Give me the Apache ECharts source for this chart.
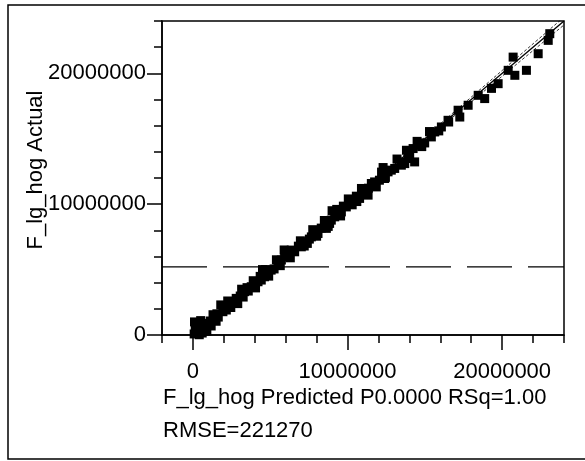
<!DOCTYPE html>
<html>
<head>
<meta charset="utf-8">
<script src="https://cdn.jsdelivr.net/npm/echarts@6/dist/echarts.min.js"></script>
<style>html,body{margin:0;padding:0;background:#fff}#c{width:585px;height:461px}</style>
</head>
<body>
<div id="c"></div>
<script>
// Predicted vs actual values (units: hogs)
var predicted = [80000,280000,150000,410000,540000,730000,210000,600000,970000,1180000,1120000,1400000,1640000,1550000,1940000,2160000,2050000,2370000,2610000,2800000,2750000,3060000,3340000,3580000,3500000,3770000,3970000,4210000,4420000,4350000,4630000,4870000,5060000,5250000,5500000,5720000,5930000,6150000,6360000,6580000,6820000,7010000,7330000,7530000,7660000,7850000,8090000,8300000,8630000,8840000,8950000,9170000,9400000,9600000,9730000,9920000,10180000,10380000,10780000,10570000,11020000,11330000,11350000,11540000,11860000,11750000,12060000,12400000,12620000,12830000,13050000,13480000,13920000,14020000,14240000,14340000,13810000,14650000,14990000,15420000,15640000,16070000,16500000,16540000,17150000,17260000,17800000,18450000,18870000,19310000,19740000,20390000,20710000,20820000,21570000,22330000,22980000,23080000,
  350000,850000,1300000,1500000,2250000,2450000,3150000,3250000,3900000,4050000,4700000,4900000,5400000,5650000,6050000,6300000,6950000,7200000,7750000,8000000,8500000,8750000,9300000,9550000,10050000,10300000,10900000,11150000,12200000,12450000,13200000,13500000,14500000,14800000,15300000,15900000,
  100000,500000,900000,1800000,2900000,4500000,5900000,7400000,9000000,10600000,12300000,13700000];
var actual = [80000,380000,530000,20000,610000,310000,760000,150000,890000,690000,1070000,1270000,1370000,1620000,1780000,1910000,2200000,2420000,2520000,2800000,2550000,2980000,3310000,3360000,3620000,3690000,3820000,4070000,4200000,4480000,4450000,4810000,4960000,5050000,5470000,5730000,5980000,6110000,6490000,6360000,6790000,6740000,7120000,7330000,7500000,7710000,7760000,8170000,8150000,8530000,8780000,9030000,9310000,9410000,9850000,9790000,10080000,10310000,10440000,10610000,10840000,10690000,11220000,11580000,11320000,11700000,11830000,11960000,12470000,12600000,12730000,12980000,13490000,13870000,14250000,13230000,14120000,14500000,14680000,15140000,15520000,15900000,16410000,16280000,17180000,16660000,17560000,18320000,18070000,18850000,19210000,20230000,21240000,19850000,20230000,21500000,22520000,23030000,
  850000,450000,1550000,1050000,2600000,2100000,3500000,2900000,4150000,3600000,5000000,4500000,5750000,5300000,6400000,5900000,7200000,6800000,8050000,7550000,8750000,8300000,9600000,9100000,10400000,9950000,11200000,10750000,12450000,12050000,13450000,13200000,14800000,14400000,15550000,15600000,
  1000000,1100000,300000,2300000,2400000,5000000,6500000,7000000,9500000,10200000,12800000,13100000];
// Fit line and confidence curves
var fitX = [0, 24000000];
var fitY = [0, 24000000];
var confX = [0, 5200000, 12000000, 18000000, 24000000];
var confLow = [-100000, 5180000, 11930000, 17820000, 23700000];
var confHigh = [100000, 5220000, 12070000, 18180000, 24300000];
var meanActual = 5210000;
// Axes
var xMin = -2000000, xMax = 24000000, yMin = 0, yMax = 24000000, step = 2000000;
var majorTicks = [0, 10000000, 20000000];
var xTitle = 'F_lg_hog Predicted P0.0000 RSq=1.00';
var rmseText = 'RMSE=221270';
var yTitle = 'F_lg_hog Actual';

var FONT = "'Liberation Sans', Arial, sans-serif";
function zip(a, b) { var r = []; for (var i = 0; i < a.length; i++) r.push([a[i], b[i]]); return r; }
function lbl(v) { return majorTicks.indexOf(v) >= 0 ? String(v) : ''; }

var chart = echarts.init(document.getElementById('c'));
var grid = { left: 162, top: 21, width: 402, height: 314, show: true, borderColor: '#000', borderWidth: 1.5, backgroundColor: 'transparent' };
var baseAxis = function (min, max, extra, margin) {
  var o = {
    type: 'value', min: min, max: max, interval: step,
    axisLine: { show: true, onZero: false, lineStyle: { color: '#000', width: 1.5 } },
    axisTick: { show: true, length: 8, lineStyle: { color: '#000', width: 1.5 } },
    axisLabel: { show: true, color: '#000', fontSize: 22, fontFamily: FONT, formatter: lbl, margin: margin, showMinLabel: true, showMaxLabel: true },
    splitLine: { show: false }
  };
  for (var k in extra) o[k] = extra[k];
  return o;
};
var majorAxis = function (min, max, extra) {
  var o = {
    type: 'value', min: min, max: max, interval: 10000000,
    axisLine: { show: false, onZero: false },
    axisTick: { show: true, length: 15, customValues: majorTicks, lineStyle: { color: '#000', width: 1.5 } },
    axisLabel: { show: false },
    splitLine: { show: false }
  };
  for (var k in extra) o[k] = extra[k];
  return o;
};

chart.setOption({
  animation: false,
  backgroundColor: '#fff',
  grid: grid,
  xAxis: [baseAxis(xMin, xMax, { position: 'bottom' }, 26), majorAxis(xMin, xMax, { position: 'bottom' })],
  yAxis: [baseAxis(yMin, yMax, { position: 'left' }, 16), majorAxis(yMin, yMax, { position: 'left' })],
  series: [
    { type: 'line', data: [[xMin, meanActual], [xMax, meanActual]], showSymbol: false, silent: true,
      lineStyle: { color: '#000', width: 1.3, type: [45, 16] } },
    { type: 'line', data: zip(confX, confLow), showSymbol: false, silent: true, smooth: true,
      lineStyle: { color: '#000', width: 0.8, type: [3, 2] } },
    { type: 'line', data: zip(confX, confHigh), showSymbol: false, silent: true, smooth: true,
      lineStyle: { color: '#000', width: 0.8, type: [3, 2] } },
    { type: 'line', data: zip(fitX, fitY), showSymbol: false, silent: true,
      lineStyle: { color: '#000', width: 1.3 } },
    { type: 'scatter', data: zip(predicted, actual), symbol: 'rect', symbolSize: 9,
      itemStyle: { color: '#000', opacity: 1 } }
  ],
  graphic: [
    { type: 'rect', shape: { x: 8, y: 5, width: 640, height: 454 }, style: { fill: 'none', stroke: '#000', lineWidth: 1.5 }, silent: true },
    { type: 'text', x: 163, y: 398, style: { text: xTitle, font: '22px ' + FONT, fill: '#000', textAlign: 'left', textVerticalAlign: 'middle' } },
    { type: 'text', x: 163, y: 431, style: { text: rmseText, font: '22px ' + FONT, fill: '#000', textAlign: 'left', textVerticalAlign: 'middle' } },
    { type: 'text', x: 36, y: 170, rotation: Math.PI / 2, style: { text: yTitle, font: '22px ' + FONT, fill: '#000', textAlign: 'center', textVerticalAlign: 'middle' } }
  ]
});
</script>
</body>
</html>
